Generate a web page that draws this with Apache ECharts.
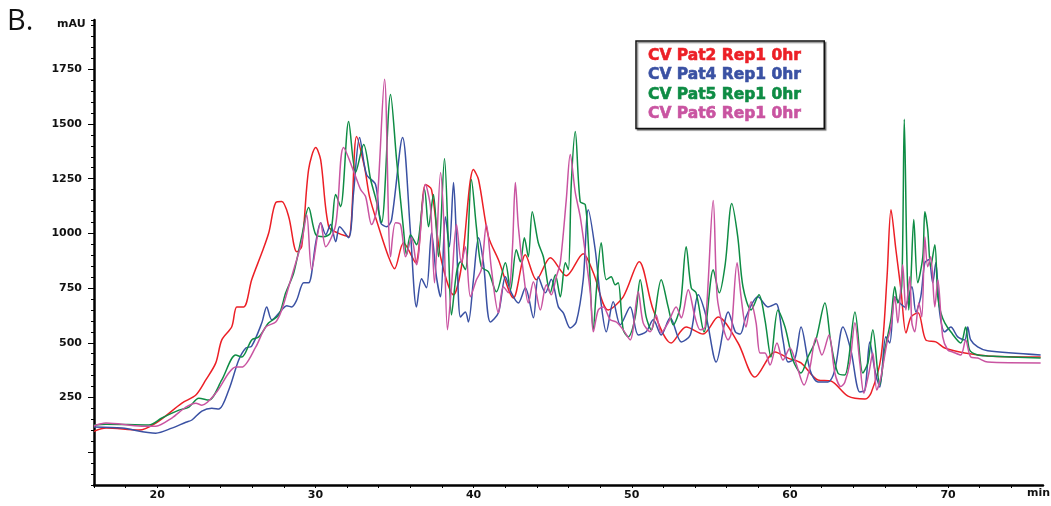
<!DOCTYPE html>
<html>
<head>
<meta charset="utf-8">
<script src="https://cdn.jsdelivr.net/npm/echarts@6/dist/echarts.min.js"></script>
<style>
html,body{margin:0;padding:0;background:#fff;}
#chart{width:1051px;height:506px;}
</style>
</head>
<body>
<div id="chart"></div>
<script>
// Series names
const seriesNames = ['CV Pat2 Rep1 0hr', 'CV Pat4 Rep1 0hr', 'CV Pat5 Rep1 0hr', 'CV Pat6 Rep1 0hr'];

// [time (min), absorbance (mAU)]
const pat2 = [[16.00,95],[16.76,110],[18.84,101],[19.91,133],[21.56,224],[22.44,261],[23.07,330],[23.70,408],[24.08,513],[24.71,573],[25.03,664],[25.47,664],[25.97,788],[26.61,911],[27.05,1003],[27.49,1140],[27.87,1145],[28.31,1076],[28.82,916],[29.13,939],[29.57,1292],[30.02,1392],[30.33,1337],[30.84,1030],[31.47,1000],[32.10,985],[32.60,1443],[33.11,1300],[33.42,1168],[33.99,1030],[34.62,893],[35.00,838],[35.57,957],[36.33,866],[36.96,1223],[37.34,1200],[37.91,893],[38.73,719],[39.23,847],[39.99,1292],[40.31,1246],[40.94,985],[41.57,879],[42.52,705],[43.27,902],[43.97,788],[44.85,888],[45.86,806],[46.93,907],[47.57,820],[48.51,650],[49.46,710],[50.47,870],[51.36,650],[52.49,499],[53.44,572],[54.51,540],[55.46,618],[56.72,499],[57.79,343],[59.06,458],[59.88,430],[60.70,408],[61.77,330],[62.59,325],[63.67,256],[64.75,243],[65.13,270],[65.76,435],[66.14,802],[66.39,1108],[66.70,925],[67.02,742],[67.34,545],[67.66,618],[68.10,637],[68.59,513],[69.22,504],[69.79,476],[71.05,453],[72.50,440],[75.85,435]];

const pat4 = [[16.00,115],[17.77,110],[19.91,87],[20.92,110],[21.81,137],[22.19,147],[22.82,188],[23.45,201],[23.89,197],[24.52,284],[25.15,421],[25.60,476],[25.97,485],[26.61,591],[26.92,664],[27.24,605],[27.87,650],[28.18,669],[28.50,664],[28.82,696],[29.26,774],[29.57,774],[30.02,957],[30.33,1049],[30.65,994],[30.96,1040],[31.28,962],[31.53,1030],[32.10,980],[32.41,1186],[32.79,1438],[33.23,1269],[33.80,1223],[34.12,1049],[34.50,1030],[34.81,1060],[35.51,1438],[36.01,1003],[36.39,664],[36.71,792],[37.02,751],[37.34,1003],[37.65,802],[37.91,710],[38.22,1076],[38.47,939],[38.73,1232],[38.92,971],[39.17,618],[39.48,641],[39.67,595],[39.99,788],[40.31,980],[40.62,866],[41.06,595],[41.57,637],[42.01,802],[42.39,728],[42.83,682],[43.27,751],[43.78,614],[44.09,802],[44.54,728],[44.91,790],[45.36,664],[45.67,637],[46.11,568],[46.49,595],[46.93,788],[47.25,1108],[47.69,925],[48.01,710],[48.39,550],[48.83,687],[49.27,582],[49.90,664],[50.41,536],[50.91,550],[51.36,605],[51.86,536],[52.43,614],[53.13,504],[53.70,536],[54.20,719],[54.71,618],[55.34,412],[56.10,641],[56.55,550],[56.86,540],[57.22,618],[57.98,710],[58.61,664],[59.12,678],[59.56,513],[59.88,412],[60.32,430],[60.70,572],[61.27,376],[61.77,321],[62.40,321],[62.84,376],[63.35,572],[63.85,467],[64.42,275],[64.74,284],[65.05,504],[65.37,376],[65.68,298],[66.06,527],[66.31,499],[66.63,710],[66.95,682],[67.26,664],[67.71,756],[67.96,641],[68.27,710],[68.53,866],[68.78,879],[69.03,774],[69.22,866],[69.47,637],[69.79,550],[70.17,572],[70.61,527],[71.05,513],[71.24,572],[71.43,513],[71.87,481],[72.50,463],[75.85,444]];

const pat5 = [[16.00,124],[16.76,128],[19.47,124],[20.29,156],[21.37,192],[22.00,206],[22.63,247],[23.26,238],[24.08,330],[24.96,444],[25.34,435],[25.97,513],[26.42,527],[27.05,591],[27.68,627],[28.12,728],[28.63,820],[29.13,985],[29.57,1118],[30.02,994],[30.52,985],[30.96,1003],[31.28,1177],[31.59,1122],[32.10,1511],[32.54,1278],[33.05,1406],[33.49,1246],[33.80,1163],[34.18,1049],[34.75,1635],[35.13,1337],[35.57,1017],[35.76,902],[36.01,994],[36.39,948],[36.90,1200],[37.15,1030],[37.46,1177],[37.78,893],[38.16,1342],[38.41,939],[38.60,627],[38.92,820],[39.17,870],[39.48,834],[39.86,1246],[40.18,1026],[40.49,847],[40.94,824],[41.44,733],[42.01,866],[42.33,742],[42.70,925],[42.96,870],[43.21,980],[43.46,893],[43.71,1099],[44.09,957],[44.41,893],[44.85,728],[45.17,811],[45.48,710],[45.80,866],[45.99,834],[46.18,1232],[46.43,1466],[46.74,1145],[47.06,1131],[47.25,957],[47.57,559],[47.75,728],[48.07,957],[48.39,788],[48.70,802],[48.95,765],[49.14,774],[49.46,559],[49.78,527],[50.22,618],[50.53,788],[50.91,618],[51.23,559],[51.86,788],[52.30,664],[52.62,582],[53.06,664],[53.44,939],[53.76,751],[54.07,728],[54.57,550],[55.15,834],[55.53,728],[55.91,860],[56.32,1136],[56.70,985],[57.03,756],[57.54,650],[58.04,719],[58.42,605],[58.80,435],[59.24,650],[59.69,572],[60.19,421],[60.70,362],[61.14,435],[61.64,513],[62.21,682],[62.59,499],[63.03,362],[63.47,353],[64.11,641],[64.61,362],[64.93,408],[65.24,559],[65.68,307],[66.00,467],[66.38,605],[66.63,756],[66.82,682],[67.07,760],[67.23,1521],[67.39,900],[67.51,650],[67.64,774],[67.83,1063],[68.08,774],[68.40,893],[68.53,1099],[68.71,1017],[68.90,847],[69.16,948],[69.35,710],[69.54,637],[69.79,591],[70.17,550],[70.80,499],[71.11,572],[71.36,467],[71.87,444],[72.50,440],[75.85,430]];

const pat6 = [[16.00,120],[16.76,133],[19.03,119],[19.91,119],[20.92,156],[21.81,206],[22.44,224],[22.82,215],[23.70,270],[24.52,362],[24.96,389],[25.34,389],[26.23,481],[26.86,572],[27.49,595],[27.87,650],[28.31,756],[28.69,850],[29.13,960],[29.45,1085],[29.76,834],[30.33,1049],[30.65,939],[31.28,1040],[31.78,1392],[32.54,1260],[32.86,1200],[33.17,1168],[33.55,1040],[33.87,1108],[34.37,1704],[34.75,893],[35.06,1049],[35.38,1040],[35.70,893],[36.08,980],[36.39,856],[36.96,1223],[37.27,1122],[37.53,774],[37.91,1278],[38.10,1076],[38.35,559],[38.60,756],[38.92,1040],[39.23,866],[39.48,939],[39.80,710],[40.18,788],[40.49,834],[40.81,1040],[41.13,834],[41.57,637],[41.88,756],[42.20,728],[42.45,925],[42.64,1232],[42.83,1030],[43.15,820],[43.46,682],[43.78,779],[44.22,650],[44.60,765],[44.91,719],[45.23,802],[45.48,866],[45.86,1154],[46.11,1360],[46.43,1186],[46.74,1076],[47.06,911],[47.38,728],[47.57,550],[47.88,650],[48.20,664],[48.64,605],[49.02,595],[49.46,559],[49.90,513],[50.41,733],[50.72,591],[51.17,550],[51.54,627],[51.86,545],[52.30,591],[52.81,664],[53.13,614],[53.57,742],[54.01,614],[54.33,559],[54.64,572],[55.15,1150],[55.40,710],[55.77,572],[56.09,513],[56.28,540],[56.66,866],[56.91,710],[57.22,572],[57.54,687],[57.86,591],[58.11,453],[58.42,453],[58.74,398],[59.18,499],[59.56,421],[60.00,476],[60.38,408],[60.89,307],[61.27,389],[61.64,522],[62.02,444],[62.47,536],[62.84,362],[63.22,300],[63.47,320],[63.79,408],[64.11,591],[64.42,408],[64.67,270],[64.99,362],[65.24,453],[65.49,284],[65.75,343],[66.13,499],[66.38,572],[66.63,710],[66.82,591],[67.13,856],[67.33,650],[67.58,802],[67.71,591],[67.89,550],[68.15,682],[68.34,618],[68.53,985],[68.71,847],[68.90,893],[69.16,664],[69.35,788],[69.66,527],[69.98,467],[70.29,458],[70.80,444],[71.11,513],[71.43,435],[71.87,430],[72.50,412],[75.85,408]];

// Axis ticks
const yLabelValues = [250, 500, 750, 1000, 1250, 1500, 1750];
const yMajorTicks = [0, 250, 500, 750, 1000, 1250, 1500, 1750];
const xLabelValues = [20, 30, 40, 50, 60, 70];

const colors = ['#ec1f26', '#3a51a3', '#0e8c44', '#c954a1'];
const seriesData = [pat2, pat4, pat5, pat6];

const chart = echarts.init(document.getElementById('chart'), null, {renderer: 'canvas'});
const axisFont = {fontFamily: 'DejaVu Sans', fontWeight: 'bold', fontSize: 11, color: '#111'};

const option = {
  animation: false,
  backgroundColor: '#fff',
  grid: {left: 94, right: 8, top: 20, bottom: 21, containLabel: false},
  xAxis: {
    type: 'value', min: 16, max: 76, interval: 2,
    axisLine: {show: true, onZero: false, lineStyle: {color: '#000', width: 2.5}},
    axisTick: {show: true, length: 3, lineStyle: {color: '#000', width: 1}},
    axisLabel: Object.assign({
      margin: 5,
      showMinLabel: true, showMaxLabel: false,
      formatter: v => xLabelValues.indexOf(Math.round(v)) >= 0 && Math.abs(v - Math.round(v)) < 1e-6 ? String(Math.round(v)) : ''
    }, axisFont),
    splitLine: {show: false}
  },
  yAxis: [{
    type: 'value', min: -150, max: 1975, interval: 50,
    axisLine: {show: true, onZero: false, lineStyle: {color: '#000', width: 2.5}},
    axisTick: {show: true, length: 3, lineStyle: {color: '#000', width: 1}},
    axisLabel: Object.assign({
      margin: 12,
      formatter: v => yLabelValues.indexOf(v) >= 0 ? String(v) : ''
    }, axisFont),
    splitLine: {show: false}
  }, {
    type: 'value', min: -150, max: 1975, position: 'left',
    axisLine: {show: false},
    axisTick: {show: true, length: 6, customValues: yMajorTicks, lineStyle: {color: '#000', width: 1}},
    axisLabel: {show: false},
    splitLine: {show: false}
  }],
  legend: {
    orient: 'vertical',
    left: 636, top: 41,
    icon: 'none', itemWidth: 0, itemHeight: 14, itemGap: 0,
    padding: [5, 23, 5, 7],
    selectedMode: false,
    backgroundColor: '#fff',
    borderColor: '#111', borderWidth: 1.5,
    shadowColor: 'rgba(0,0,0,0.45)', shadowOffsetX: 1.5, shadowOffsetY: 1.5, shadowBlur: 1,
    textStyle: {fontFamily: 'DejaVu Sans', fontWeight: 'bold', fontSize: 15.5, lineHeight: 19.4},
    data: seriesNames.map((n, i) => ({name: n, textStyle: {color: colors[i], textBorderColor: colors[i], textBorderWidth: 0.6}}))
  },
  graphic: [
    {type: 'text', left: 7, top: 7, style: {text: 'B.', font: '29px "Open Sans"', fill: '#111'}},
    {type: 'text', left: 57, top: 19, style: {text: 'mAU', font: 'bold 11px "DejaVu Sans"', fill: '#111'}},
    {type: 'text', left: 1027, top: 488, style: {text: 'min', font: 'bold 11px "DejaVu Sans"', fill: '#111'}}
  ],
  series: seriesNames.map((n, i) => ({
    name: n, type: 'line', yAxisIndex: 0,
    data: seriesData[i],
    showSymbol: false, symbol: 'none',
    smooth: 0.3,
    clip: true,
    lineStyle: {color: colors[i], width: 1.5},
    itemStyle: {color: colors[i]}
  }))
};
chart.setOption(option);
</script>
</body>
</html>
